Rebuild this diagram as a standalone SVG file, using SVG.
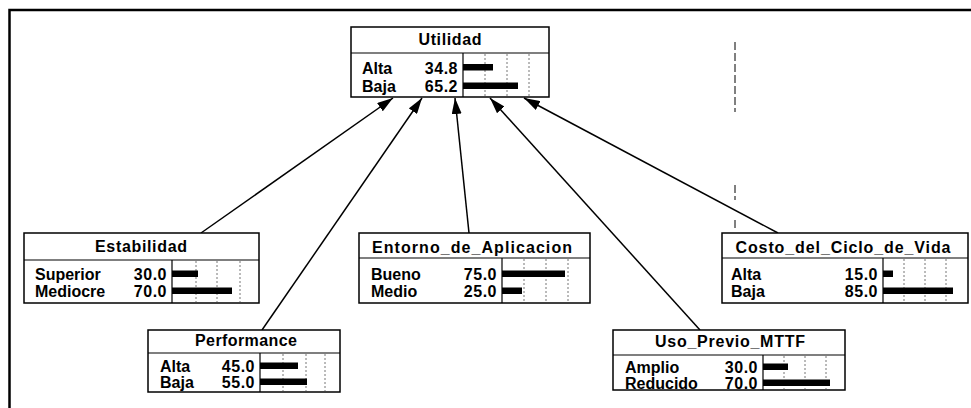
<svg xmlns="http://www.w3.org/2000/svg" width="971" height="408" viewBox="0 0 971 408">
<defs>
<marker id="arr" markerUnits="userSpaceOnUse" markerWidth="16" markerHeight="10" refX="16" refY="5" orient="auto">
<path d="M0,0 L16,5 L0,10 z" fill="#000"/>
</marker>
<style>
.box{fill:#fff;stroke:#000;stroke-width:1.5}
.div{stroke:#000;stroke-width:1.2}
.grid{stroke:#777;stroke-width:1;stroke-dasharray:2 2}
.t{font-family:"Liberation Sans",Arial,sans-serif;font-weight:bold;font-size:16px;fill:#000}
.ttl{text-anchor:middle}
.v{text-anchor:end;letter-spacing:0.5px}
.bar{fill:#000}
.con{stroke:#000;stroke-width:1.5;fill:none;marker-end:url(#arr)}
</style>
</defs>
<rect width="971" height="408" fill="#fff"/>
<path d="M9.5,408 L9.5,10 L971,10" fill="none" stroke="#000" stroke-width="2.5"/>
<path d="M735,42 L735,112 M735,185 L735,200 M735,220 L735,230" stroke="#000" stroke-width="1" stroke-dasharray="8 3"/>

<g id="connectors">
<line class="con" x1="201" y1="233" x2="393" y2="98"/>
<line class="con" x1="262" y1="330" x2="422" y2="98"/>
<line class="con" x1="469" y1="233" x2="455" y2="98"/>
<line class="con" x1="700" y1="330" x2="490" y2="98"/>
<line class="con" x1="778" y1="233" x2="524" y2="98"/>
</g>

<g id="Utilidad">
<rect class="box" x="351" y="27" width="198" height="70"/>
<line class="div" x1="351" y1="53" x2="549" y2="53"/>
<line class="div" x1="463" y1="53" x2="463" y2="97"/>
<line class="grid" x1="485" y1="54" x2="485" y2="96"/>
<line class="grid" x1="507" y1="54" x2="507" y2="96"/>
<line class="grid" x1="529" y1="54" x2="529" y2="96"/>
<text class="t ttl" x="450" y="45" textLength="63" lengthAdjust="spacing">Utilidad</text>
<text class="t" x="362" y="74">Alta</text>
<text class="t v" x="458" y="74">34.8</text>
<text class="t" x="362" y="92">Baja</text>
<text class="t v" x="458" y="92">65.2</text>
<rect class="bar" x="463" y="64" width="30" height="6.5"/>
<rect class="bar" x="463" y="82.5" width="55" height="6.5"/>
</g>

<g id="Estabilidad">
<rect class="box" x="24" y="233" width="235" height="70"/>
<line class="div" x1="24" y1="260" x2="259" y2="260"/>
<line class="div" x1="172" y1="260" x2="172" y2="303"/>
<line class="grid" x1="196" y1="261" x2="196" y2="302"/>
<line class="grid" x1="217" y1="261" x2="217" y2="302"/>
<line class="grid" x1="240" y1="261" x2="240" y2="302"/>
<text class="t ttl" x="141" y="252" textLength="92" lengthAdjust="spacing">Estabilidad</text>
<text class="t" x="35" y="280">Superior</text>
<text class="t v" x="167" y="280">30.0</text>
<text class="t" x="35" y="297">Mediocre</text>
<text class="t v" x="167" y="297">70.0</text>
<rect class="bar" x="172" y="270.5" width="26" height="6.5"/>
<rect class="bar" x="172" y="287.5" width="60" height="6.5"/>
</g>

<g id="Performance">
<rect class="box" x="148" y="330" width="192" height="62"/>
<line class="div" x1="148" y1="353" x2="340" y2="353"/>
<line class="div" x1="260" y1="353" x2="260" y2="392"/>
<line class="grid" x1="283" y1="354" x2="283" y2="391"/>
<line class="grid" x1="306" y1="354" x2="306" y2="391"/>
<line class="grid" x1="325" y1="354" x2="325" y2="391"/>
<text class="t ttl" x="246" y="346" textLength="102" lengthAdjust="spacing">Performance</text>
<text class="t" x="160" y="372">Alta</text>
<text class="t v" x="255" y="372">45.0</text>
<text class="t" x="160" y="388">Baja</text>
<text class="t v" x="255" y="388">55.0</text>
<rect class="bar" x="260" y="362.5" width="38" height="6.5"/>
<rect class="bar" x="260" y="378.5" width="47" height="6.5"/>
</g>

<g id="Entorno_de_Aplicacion">
<rect class="box" x="359" y="233" width="231" height="70"/>
<line class="div" x1="359" y1="258" x2="590" y2="258"/>
<line class="div" x1="502" y1="258" x2="502" y2="303"/>
<line class="grid" x1="524" y1="259" x2="524" y2="302"/>
<line class="grid" x1="546" y1="259" x2="546" y2="302"/>
<line class="grid" x1="568" y1="259" x2="568" y2="302"/>
<text class="t ttl" x="472" y="253" textLength="200" lengthAdjust="spacing">Entorno_de_Aplicacion</text>
<text class="t" x="371" y="280">Bueno</text>
<text class="t v" x="497" y="280">75.0</text>
<text class="t" x="371" y="297">Medio</text>
<text class="t v" x="497" y="297">25.0</text>
<rect class="bar" x="502" y="270.5" width="63" height="6.5"/>
<rect class="bar" x="502" y="287.5" width="20" height="6.5"/>
</g>

<g id="Uso_Previo_MTTF">
<rect class="box" x="613" y="330" width="232" height="60"/>
<line class="div" x1="613" y1="355" x2="845" y2="355"/>
<line class="div" x1="763" y1="355" x2="763" y2="390"/>
<line class="grid" x1="784" y1="356" x2="784" y2="389"/>
<line class="grid" x1="805" y1="356" x2="805" y2="389"/>
<line class="grid" x1="826" y1="356" x2="826" y2="389"/>
<text class="t ttl" x="730" y="347" textLength="150" lengthAdjust="spacing">Uso_Previo_MTTF</text>
<text class="t" x="625" y="373">Amplio</text>
<text class="t v" x="758" y="373">30.0</text>
<text class="t" x="625" y="389">Reducido</text>
<text class="t v" x="758" y="389">70.0</text>
<rect class="bar" x="763" y="363.5" width="25" height="6.5"/>
<rect class="bar" x="763" y="379.5" width="67" height="6.5"/>
</g>

<g id="Costo_del_Ciclo_de_Vida">
<rect class="box" x="722" y="233" width="246" height="70"/>
<line class="div" x1="722" y1="258" x2="968" y2="258"/>
<line class="div" x1="883" y1="258" x2="883" y2="303"/>
<line class="grid" x1="904" y1="259" x2="904" y2="302"/>
<line class="grid" x1="925" y1="259" x2="925" y2="302"/>
<line class="grid" x1="946" y1="259" x2="946" y2="302"/>
<text class="t ttl" x="843" y="253" textLength="215" lengthAdjust="spacing">Costo_del_Ciclo_de_Vida</text>
<text class="t" x="731" y="280">Alta</text>
<text class="t v" x="878" y="280">15.0</text>
<text class="t" x="731" y="297">Baja</text>
<text class="t v" x="878" y="297">85.0</text>
<rect class="bar" x="883" y="270.5" width="10" height="6.5"/>
<rect class="bar" x="883" y="287.5" width="70" height="6.5"/>
</g>
</svg>
